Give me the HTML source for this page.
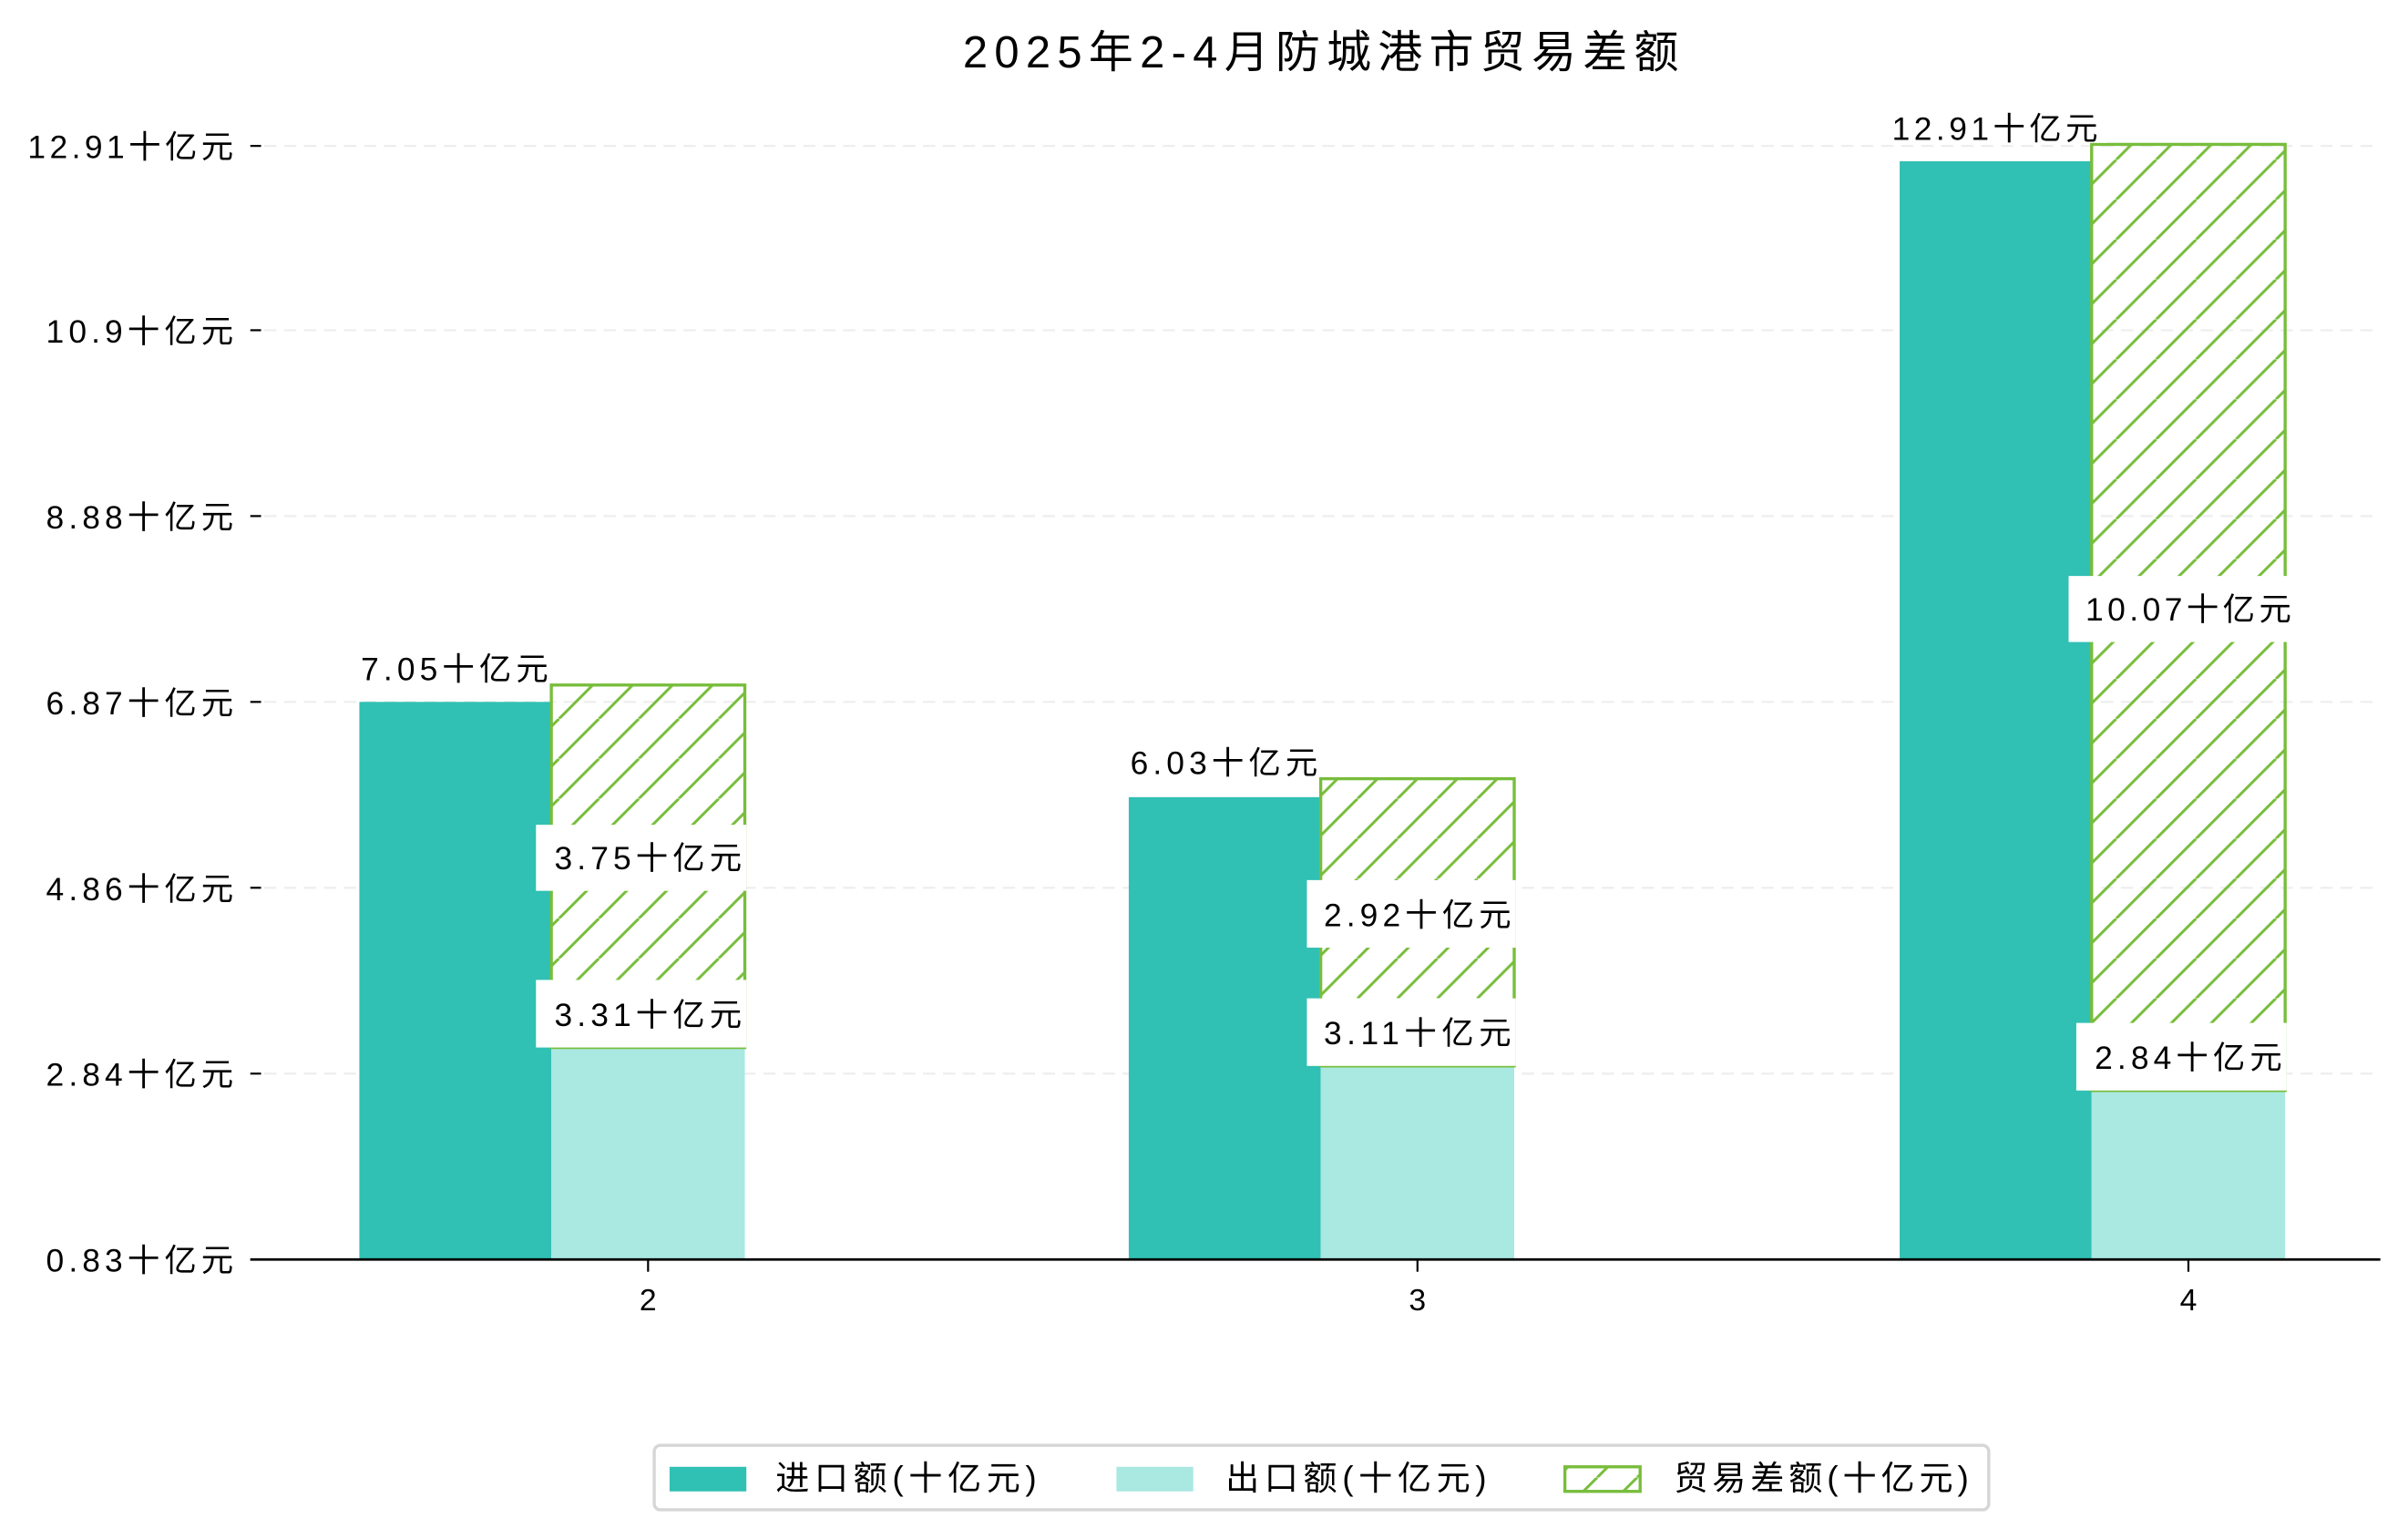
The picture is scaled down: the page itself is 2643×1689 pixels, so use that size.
<!DOCTYPE html>
<html><head><meta charset="utf-8"><style>
html,body{margin:0;padding:0;background:#fff;}
svg{display:block;}
text{font-family:"Liberation Sans","Noto Sans CJK SC",sans-serif;fill:#000;}
</style></head><body>
<svg width="2643" height="1689" viewBox="0 0 1568 1002" preserveAspectRatio="none" xmlns="http://www.w3.org/2000/svg">
<defs>
<pattern id="h" patternUnits="userSpaceOnUse" width="26" height="26">
<line x1="-26" y1="26" x2="0" y2="0" stroke="#78bd3c" stroke-width="1.8"/>
<line x1="0" y1="26" x2="26" y2="0" stroke="#78bd3c" stroke-width="1.8"/>
<line x1="26" y1="26" x2="52" y2="0" stroke="#78bd3c" stroke-width="1.8"/>
</pattern>
</defs>
<text x="860" y="44" font-size="29" text-anchor="middle" textLength="466">2025年2-4月防城港市贸易差额</text>
<g stroke="#eeeeee" stroke-width="1.3" stroke-dasharray="8,5">
<line x1="172" y1="95" x2="1550" y2="95"/>
<line x1="172" y1="215" x2="1550" y2="215"/>
<line x1="172" y1="336" x2="1550" y2="336"/>
<line x1="172" y1="457" x2="1550" y2="457"/>
<line x1="172" y1="578" x2="1550" y2="578"/>
<line x1="172" y1="699" x2="1550" y2="699"/>
</g>
<g stroke="#000" stroke-width="1.3">
<line x1="163" y1="95" x2="170" y2="95"/><line x1="163" y1="215" x2="170" y2="215"/>
<line x1="163" y1="336" x2="170" y2="336"/><line x1="163" y1="457" x2="170" y2="457"/>
<line x1="163" y1="578" x2="170" y2="578"/><line x1="163" y1="699" x2="170" y2="699"/>
<line x1="163" y1="820" x2="170" y2="820"/>
<line x1="422" y1="820" x2="422" y2="828"/><line x1="923" y1="820" x2="923" y2="828"/><line x1="1425" y1="820" x2="1425" y2="828"/>
</g>
<g font-size="21" text-anchor="end">
<text x="152" y="103" textLength="134">12.91十亿元</text>
<text x="152" y="223" textLength="122">10.9十亿元</text>
<text x="152" y="344" textLength="122">8.88十亿元</text>
<text x="152" y="465" textLength="122">6.87十亿元</text>
<text x="152" y="586" textLength="122">4.86十亿元</text>
<text x="152" y="707" textLength="122">2.84十亿元</text>
<text x="152" y="828" textLength="122">0.83十亿元</text>
</g>
<g font-size="20" text-anchor="middle">
<text x="422" y="853">2</text><text x="923" y="853">3</text><text x="1425" y="853">4</text>
</g>
<rect x="234" y="457" width="125" height="363" fill="#30c0b4"/>
<rect x="359" y="682" width="126" height="138" fill="#aae8e2"/>
<rect x="359" y="446" width="126" height="236" fill="url(#h)" stroke="#78bd3c" stroke-width="2"/>
<rect x="735" y="519" width="125" height="301" fill="#30c0b4"/>
<rect x="860" y="694" width="126" height="126" fill="#aae8e2"/>
<rect x="860" y="507" width="126" height="187" fill="url(#h)" stroke="#78bd3c" stroke-width="2"/>
<rect x="1237" y="105" width="125" height="715" fill="#30c0b4"/>
<rect x="1362" y="710" width="126" height="110" fill="#aae8e2"/>
<rect x="1362" y="94" width="126" height="616" fill="url(#h)" stroke="#78bd3c" stroke-width="2"/>
<g fill="#fff">
<rect x="349" y="537" width="137" height="43"/>
<rect x="349" y="638" width="137" height="44"/>
<rect x="851" y="573" width="136" height="44"/>
<rect x="851" y="650" width="136" height="44"/>
<rect x="1347" y="375" width="148" height="43"/>
<rect x="1352" y="666" width="137" height="44"/>
<rect x="1230" y="68" width="142" height="25"/>
</g>
<g font-size="21" text-anchor="middle">
<text x="296" y="443" textLength="122">7.05十亿元</text>
<text x="422" y="566" textLength="122">3.75十亿元</text>
<text x="422" y="668" textLength="122">3.31十亿元</text>
<text x="797" y="504" textLength="122">6.03十亿元</text>
<text x="923" y="603" textLength="122">2.92十亿元</text>
<text x="923" y="680" textLength="122">3.11十亿元</text>
<text x="1299" y="91" textLength="134">12.91十亿元</text>
<text x="1425" y="404" textLength="134">10.07十亿元</text>
<text x="1425" y="696" textLength="122">2.84十亿元</text>
</g>
<line x1="163" y1="820" x2="1550" y2="820" stroke="#000" stroke-width="1.6"/>
<rect x="426" y="941" width="869" height="42" rx="4" fill="#fff" stroke="#d6d6d6" stroke-width="2"/>
<rect x="436" y="955" width="50" height="16" fill="#30c0b4"/>
<rect x="727" y="955" width="50" height="16" fill="#aae8e2"/>
<rect x="1019" y="955" width="49" height="16" fill="url(#h)" stroke="#78bd3c" stroke-width="2"/>
<g font-size="22">
<text x="505" y="970" textLength="170">进口额(十亿元)</text>
<text x="798" y="970" textLength="170">出口额(十亿元)</text>
<text x="1090" y="970" textLength="192">贸易差额(十亿元)</text>
</g>
</svg>
</body></html>
